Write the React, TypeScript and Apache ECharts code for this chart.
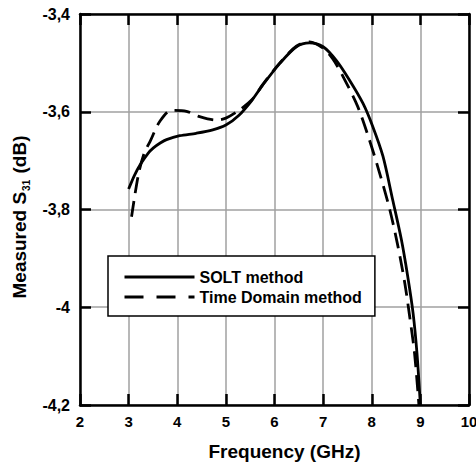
import React, { useEffect, useRef } from "react";
import * as echarts from "echarts";

const soltFreq = [3.0, 3.12, 3.24, 3.4, 3.51, 3.65, 3.78, 4.05, 4.39, 4.73, 5.0, 5.27, 5.54, 5.76, 6.11, 6.45, 6.72, 7.0, 7.27, 7.54, 7.82, 8.02, 8.23, 8.43, 8.61, 8.74, 8.85, 8.93, 9.0];
const soltVal = [-3.758, -3.73, -3.708, -3.685, -3.674, -3.664, -3.657, -3.649, -3.644, -3.637, -3.627, -3.607, -3.576, -3.545, -3.501, -3.467, -3.459, -3.467, -3.495, -3.535, -3.583, -3.63, -3.691, -3.78, -3.862, -3.937, -4.012, -4.094, -4.2];

const tdFreq = [3.06, 3.2, 3.32, 3.44, 3.64, 3.88, 4.19, 4.46, 4.8, 5.0, 5.27, 5.54, 5.76, 6.11, 6.45, 6.72, 7.0, 7.2, 7.41, 7.71, 7.95, 8.16, 8.37, 8.54, 8.68, 8.78, 8.88, 8.97];
const tdVal = [-3.815, -3.729, -3.685, -3.661, -3.62, -3.597, -3.599, -3.61, -3.617, -3.613, -3.597, -3.575, -3.544, -3.5, -3.466, -3.457, -3.47, -3.492, -3.528, -3.589, -3.657, -3.725, -3.8, -3.876, -3.951, -4.019, -4.094, -4.2];

const seriesNames = ["SOLT method", "Time Domain method"];
const xTitle = "Frequency (GHz)";
const yTitle = "{m|Measured S}{sub|31}{m| (dB)}";
const FONT = "'Liberation Sans', Arial, sans-serif";

export default function App() {
  const ref = useRef<HTMLDivElement>(null);
  useEffect(() => {
    if (!ref.current) return;
    const chart = echarts.init(ref.current, null, { renderer: "svg" });
    const tickStyle = { show: true, inside: true, length: 11, lineStyle: { color: "#000", width: 2.5 } };
    const axisLine = { show: true, lineStyle: { color: "#000", width: 2.5 } };
    const gridLine = { show: true, lineStyle: { color: "#a0a0a0", width: 1.5 } };
    chart.setOption({
      animation: false,
      backgroundColor: "#fff",
      textStyle: { fontFamily: FONT },
      grid: { left: 80, right: 7, top: 14, bottom: 67, outerBoundsMode: "none" },
      legend: {
        orient: "vertical",
        left: 108,
        top: 256,
        itemWidth: 70,
        itemHeight: 14,
        itemGap: 4,
        padding: [13, 13, 11, 15],
        borderColor: "#000",
        borderWidth: 1.5,
        backgroundColor: "#fff",
        itemStyle: { color: "rgba(0,0,0,0)", borderWidth: 0, opacity: 0 },
        lineStyle: { width: 3 },
        textStyle: { fontFamily: FONT, fontWeight: "bold", fontSize: 16, color: "#000" },
        data: [
          { name: seriesNames[0] },
          { name: seriesNames[1], lineStyle: { type: [19, 13] } },
        ],
      },
      xAxis: [
        {
          type: "value",
          min: 2,
          max: 10,
          interval: 1,
          position: "bottom",
          axisLine,
          axisTick: tickStyle,
          splitLine: gridLine,
          axisLabel: { color: "#000", fontWeight: "bold", fontSize: 15, fontFamily: FONT, margin: 9 },
          name: xTitle,
          nameLocation: "middle",
          nameGap: 37,
          nameTextStyle: { color: "#000", fontWeight: "bold", fontSize: 19, fontFamily: FONT, padding: [0, 0, 0, 20] },
        },
        {
          type: "value",
          min: 2,
          max: 10,
          interval: 1,
          position: "top",
          axisLine,
          axisTick: tickStyle,
          splitLine: { show: false },
          axisLabel: { show: false },
        },
      ],
      yAxis: [
        {
          type: "value",
          min: -4.2,
          max: -3.4,
          interval: 0.2,
          position: "left",
          axisLine,
          axisTick: tickStyle,
          splitLine: gridLine,
          axisLabel: {
            color: "#000",
            fontWeight: "bold",
            fontSize: 16,
            fontFamily: FONT,
            margin: 10,
            formatter: (v: number) => String(Math.round(v * 10) / 10).replace(".", ","),
          },
          name: yTitle,
          nameLocation: "middle",
          nameGap: 42,
          nameTextStyle: {
            color: "#000",
            fontWeight: "bold",
            fontSize: 19,
            fontFamily: FONT,
            padding: [0, 15, 0, 0],
            rich: {
              m: { fontSize: 19, fontWeight: "bold", fontFamily: FONT, color: "#000", lineHeight: 22, verticalAlign: "top" },
              sub: { fontSize: 10, fontWeight: "bold", fontFamily: FONT, color: "#000", lineHeight: 10, verticalAlign: "bottom", padding: [20, 1, 0, 1] },
            },
          },
        },
        {
          type: "value",
          min: -4.2,
          max: -3.4,
          interval: 0.2,
          position: "right",
          axisLine,
          axisTick: tickStyle,
          splitLine: { show: false },
          axisLabel: { show: false },
        },
      ],
      series: [
        {
          name: seriesNames[0],
          type: "line",
          data: soltFreq.map((f, i) => [f, soltVal[i]]),
          smooth: 0.3,
          symbol: "none",
          clip: true,
          lineStyle: { color: "#000", width: 2.8, type: "solid" },
          itemStyle: { color: "#000" },
        },
        {
          name: seriesNames[1],
          type: "line",
          data: tdFreq.map((f, i) => [f, tdVal[i]]),
          smooth: 0.3,
          symbol: "none",
          clip: true,
          lineStyle: { color: "#000", width: 2.8, type: [16, 8] },
          itemStyle: { color: "#000" },
        },
      ],
    });
    return () => chart.dispose();
  }, []);
  return (
    <div
      ref={ref}
      style={{ position: "absolute", left: 0, top: 0, width: 476, height: 472 }}
    />
  );
}
